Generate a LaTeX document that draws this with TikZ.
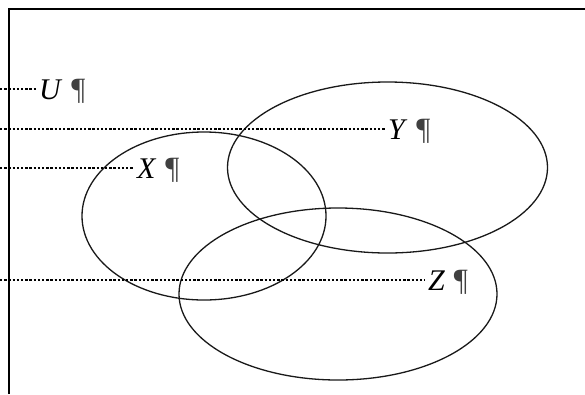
\documentclass[tikz,border=0pt]{standalone}
\usepackage{fontspec}
\setmainfont{Liberation Serif}
\usepackage{tikz}

\tikzset{
  setring/.style={draw=black!90,line width=1.3pt},
  guide/.style={draw=black,line width=1.3pt,dash pattern=on 2.3pt off 1.9pt},
  setlabel/.style={inner xsep=3pt,inner ysep=0pt,outer sep=0pt,anchor=west,
    text height=20pt,text depth=0pt,font=\fontsize{30}{34}\selectfont},
}
\newcommand{\pilmark}{\hspace{0.3em}{\color{black!75}\fontsize{31}{34}\selectfont ¶}}

\begin{document}
\begin{tikzpicture}[x=1pt,y=-1pt]
\path[use as bounding box] (0,0) rectangle (585,394);
\path[fill=white,draw=none] (0,0) rectangle (585,394);
% frame
\draw[black,line width=1.6pt] (9,394) -- (9,9) -- (585,9);
% sets
\draw[setring] (204,216) ellipse [x radius=122,y radius=84];
\draw[setring] (387.5,167.5) ellipse [x radius=160,y radius=85.5];
\draw[setring] (338,294) ellipse [x radius=159,y radius=86];
% labels
\node[setlabel] (labU) at (36,89) {\textit{U}\pilmark};
\node[setlabel] (labY) at (385,129) {\textit{Y}\pilmark};
\node[setlabel] (labX) at (134,168) {\textit{X}\pilmark};
\node[setlabel] (labZ) at (425,280) {\textit{Z}\pilmark};
\coordinate (endU) at (0,89);
\coordinate (endY) at (0,129);
\coordinate (endX) at (0,168);
\coordinate (endZ) at (0,280);
\draw[guide] (endU) -- (labU.west);
\draw[guide] (endY) -- (labY.west);
\draw[guide] (endX) -- (labX.west);
\draw[guide] (endZ) -- (labZ.west);
\end{tikzpicture}
\end{document}
